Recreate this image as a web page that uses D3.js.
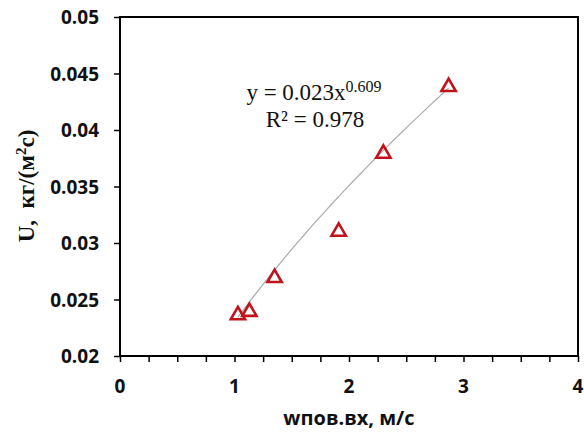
<!DOCTYPE html>
<html>
<head>
<meta charset="utf-8">
<script src="https://cdn.jsdelivr.net/npm/d3@7"></script>
<style>
  body { margin: 0; background: #fff; }
  svg { display: block; }
</style>
</head>
<body>
<div id="chart"></div>
<script>
var width = 584, height = 432;

// data
var xVals = [1.03, 1.13, 1.35, 1.91, 2.30, 2.87];
var yVals = [0.0237, 0.0240, 0.0270, 0.0311, 0.0380, 0.0439];
var xTicks = [0, 1, 2, 3, 4];
var yTicks = [0.02, 0.025, 0.03, 0.035, 0.04, 0.045, 0.05];
var fitA = 0.023, fitB = 0.609;

var x = d3.scaleLinear().domain([0, 4]).range([120, 578]);
var y = d3.scaleLinear().domain([0.02, 0.05]).range([356, 17]);

var svg = d3.select('#chart').append('svg')
    .attr('width', width)
    .attr('height', height);

// frame
svg.append('rect')
    .attr('x', x(0)).attr('y', y(0.05))
    .attr('width', x(4) - x(0)).attr('height', y(0.02) - y(0.05))
    .attr('fill', 'none').attr('stroke', '#000').attr('stroke-width', 2);

// x axis, minor ticks every 0.25
var xAxis = svg.append('g')
    .attr('transform', 'translate(0,' + y(0.02) + ')')
    .call(d3.axisBottom(x).tickValues(d3.range(0, 4.01, 0.25)).tickSize(6).tickFormat(''));
xAxis.select('.domain').remove();
xAxis.selectAll('line').attr('stroke', '#000').attr('stroke-width', 1.5);

svg.append('g').selectAll('text')
    .data(xTicks).enter().append('text')
    .attr('x', function (d) { return x(d); })
    .attr('y', 393)
    .attr('text-anchor', 'middle')
    .style('font-family', 'Open Sans')
    .style('font-weight', 'bold')
    .style('font-size', '19px')
    .attr('fill', '#111')
    .text(function (d) { return d; });

// y axis
var yAxis = svg.append('g')
    .attr('transform', 'translate(' + x(0) + ',0)')
    .call(d3.axisLeft(y).tickValues(yTicks).tickSize(6).tickFormat(''));
yAxis.select('.domain').remove();
yAxis.selectAll('line').attr('stroke', '#000').attr('stroke-width', 1.5);

svg.append('g').selectAll('text')
    .data(yTicks).enter().append('text')
    .attr('x', 99)
    .attr('y', function (d) { return y(d) + 7; })
    .attr('text-anchor', 'end')
    .style('font-family', 'Open Sans')
    .style('font-weight', 'bold')
    .style('font-size', '19px')
    .attr('fill', '#111')
    .text(function (d) { return d; });

// trendline y = a x^b
var xs = d3.range(0, 51).map(function (i) {
  return xVals[0] + (xVals[xVals.length - 1] - xVals[0]) * i / 50;
});
var line = d3.line()
    .x(function (d) { return x(d); })
    .y(function (d) { return y(fitA * Math.pow(d, fitB)); });
svg.append('path')
    .datum(xs)
    .attr('d', line)
    .attr('fill', 'none')
    .attr('stroke', '#aaa')
    .attr('stroke-width', 1.2);

// points
var tri = d3.symbol().type(d3.symbolTriangle).size(88);
svg.append('g').selectAll('path')
    .data(xVals).enter().append('path')
    .attr('d', tri)
    .attr('transform', function (d, i) { return 'translate(' + x(d) + ',' + (y(yVals[i]) + 1) + ')'; })
    .attr('fill', 'none')
    .attr('stroke', '#c0141c')
    .attr('stroke-width', 2.6);

// equation
var eq = svg.append('text')
    .attr('x', 314).attr('y', 100)
    .attr('text-anchor', 'middle')
    .style('font-family', 'Liberation Serif')
    .style('font-size', '23px')
    .attr('fill', '#111');
eq.append('tspan').text('y = 0.023x');
eq.append('tspan').attr('dy', -8).style('font-size', '16px').text('0.609');

svg.append('text')
    .attr('x', 315).attr('y', 127)
    .attr('text-anchor', 'middle')
    .style('font-family', 'Liberation Serif')
    .style('font-size', '23px')
    .attr('fill', '#111')
    .text('R² = 0.978');

// axis titles
svg.append('text')
    .attr('x', 349).attr('y', 425)
    .attr('text-anchor', 'middle')
    .style('font-family', 'Open Sans')
    .style('font-weight', 'bold')
    .style('font-size', '20px')
    .attr('fill', '#111')
    .text('wпов.вх, м/с');

var yt = svg.append('text')
    .attr('transform', 'translate(34,186) rotate(-90)')
    .attr('text-anchor', 'middle')
    .style('font-family', 'Liberation Serif')
    .style('font-weight', 'bold')
    .style('font-size', '23px')
    .attr('fill', '#111')
    .attr('xml:space', 'preserve');
yt.append('tspan').text('U,  кг/(м');
yt.append('tspan').attr('dy', -8).style('font-size', '15px').text('2');
yt.append('tspan').attr('dy', 8).text('с)');
</script>
</body>
</html>
